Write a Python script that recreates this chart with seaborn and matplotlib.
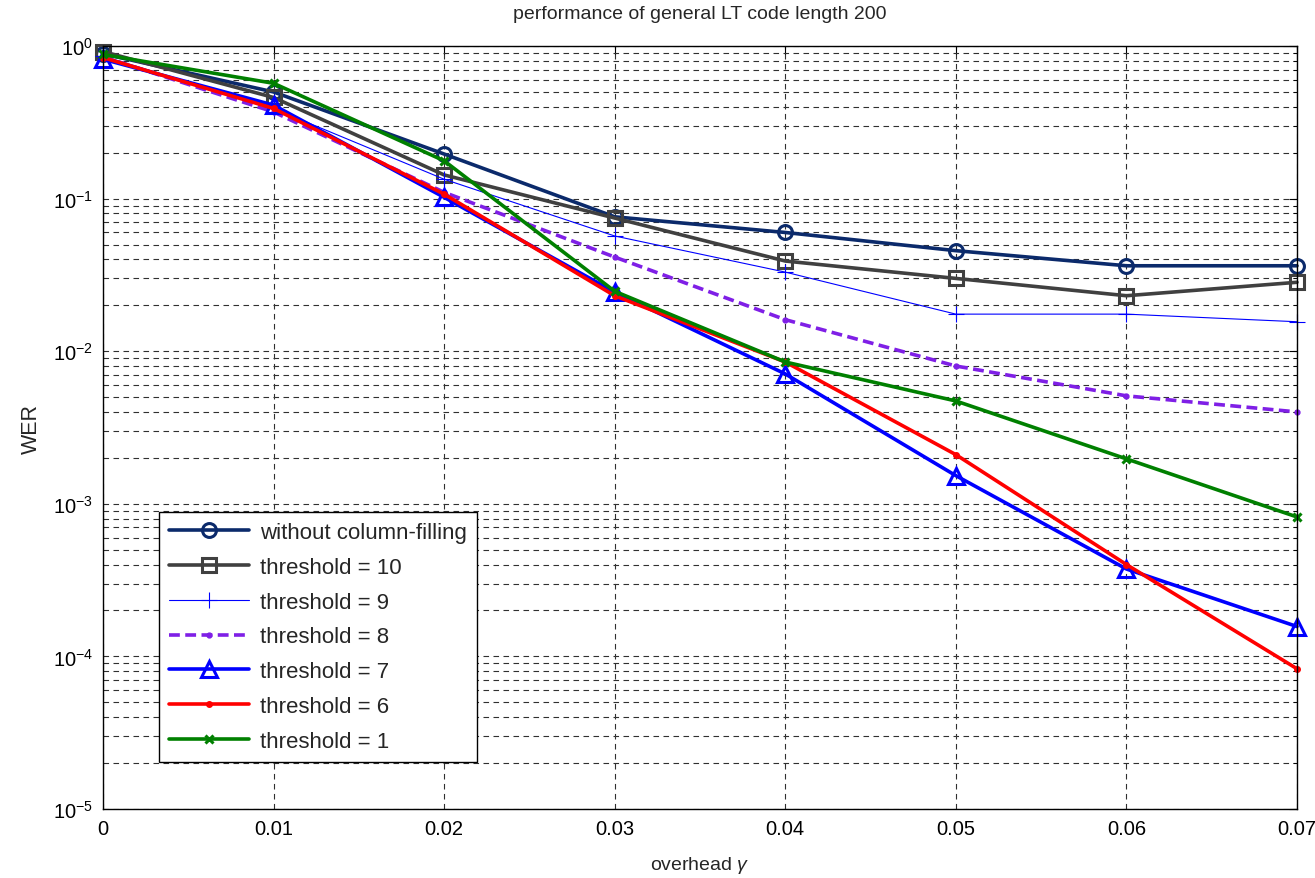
import matplotlib
matplotlib.use("Agg")
import matplotlib.pyplot as plt
import matplotlib.ticker as mticker
import numpy as np
import pandas as pd
import seaborn as sns

# overhead values
overhead = [0, 0.01, 0.02, 0.03, 0.04, 0.05, 0.06, 0.07]

# WER
wer_no_fill = [0.89, 0.50, 0.196, 0.076, 0.060, 0.0456, 0.0363, 0.0363]
wer_t10 = [0.92, 0.46, 0.143, 0.0746, 0.039, 0.030, 0.0231, 0.0283]
wer_t9 = [0.86, 0.39, 0.134, 0.0569, 0.033, 0.0175, 0.0175, 0.0156]
wer_t8 = [0.85, 0.37, 0.110, 0.0414, 0.0161, 0.0080, 0.0051, 0.0040]
wer_t7 = [0.82, 0.41, 0.102, 0.0244, 0.0071, 0.00153, 0.000374, 0.000157]
wer_t6 = [0.84, 0.39, 0.107, 0.0231, 0.0085, 0.0021, 0.0004, 0.000083]
wer_t1 = [0.88, 0.57, 0.177, 0.0247, 0.0085, 0.00472, 0.00197, 0.00082]

labels = ["without column-filling", "threshold = 10", "threshold = 9",
          "threshold = 8", "threshold = 7", "threshold = 6", "threshold = 1"]

sns.set_style("white")
plt.rcParams["font.family"] = ["Liberation Sans", "DejaVu Sans"]
plt.rcParams["mathtext.fontset"] = "custom"
plt.rcParams["mathtext.rm"] = "Liberation Sans"
plt.rcParams["mathtext.it"] = "Liberation Sans:italic"

fig = plt.figure(figsize=(13.15, 8.79), dpi=100)
ax = fig.add_axes([0.0783, 0.0785, 0.908, 0.868])

styles = [
    dict(color="#0b2a6b", marker="o", lw=2.6, ms=10, mew=2.2, ls="-", mfc="none"),
    dict(color="#404040", marker="s", lw=2.6, ms=10, mew=2.2, ls="-", mfc="none"),
    dict(color="#0000ff", marker="+", lw=0.8, ms=12, mew=0.8, ls="-", mfc="none"),
    dict(color="#7f1fe6", marker=".", lw=2.6, ms=7, mew=1, ls=(0, (3, 1.5)), mfc="#7f1fe6"),
    dict(color="#0000ff", marker="^", lw=2.6, ms=12, mew=2.2, ls="-", mfc="none"),
    dict(color="#ff0000", marker=".", lw=2.6, ms=8, mew=1, ls="-", mfc="#ff0000"),
    dict(color="#008000", marker="x", lw=2.6, ms=6, mew=2.2, ls="-", mfc="none"),
]
series = [wer_no_fill, wer_t10, wer_t9, wer_t8, wer_t7, wer_t6, wer_t1]

for vals, lab, st in zip(series, labels, styles):
    df = pd.DataFrame({"overhead": overhead, "WER": vals})
    sns.lineplot(data=df, x="overhead", y="WER", ax=ax, label=lab,
                 color=st["color"], marker=st["marker"], linewidth=st["lw"],
                 markersize=st["ms"], markeredgewidth=st["mew"],
                 linestyle=st["ls"], markerfacecolor=st["mfc"],
                 markeredgecolor=st["color"], clip_on=False)

ax.set_yscale("log")
ax.set_xlim(0, 0.07)
ax.set_ylim(1e-5, 1)
ax.set_xticks(overhead)
ax.set_xticklabels(["0", "0.01", "0.02", "0.03", "0.04", "0.05", "0.06", "0.07"])
ax.yaxis.set_major_locator(mticker.LogLocator(base=10, numticks=10))
ax.yaxis.set_minor_locator(mticker.LogLocator(base=10, subs=np.arange(2, 10), numticks=20))
ax.yaxis.set_minor_formatter(mticker.NullFormatter())

grid_ls = (0, (5, 4))
ax.grid(True, which="major", axis="both", color="#303030", linestyle=grid_ls, linewidth=0.8)
ax.grid(True, which="minor", axis="y", color="#303030", linestyle=grid_ls, linewidth=0.8)

ax.tick_params(axis="both", which="both", direction="in", top=True, right=True,
               labelsize=14.5, colors="black")
ax.tick_params(which="major", length=6, pad=7)
ax.tick_params(which="minor", length=3)
for sp in ax.spines.values():
    sp.set_color("black")
    sp.set_linewidth(1.0)

ax.set_xlabel(r"overhead $\gamma$", fontsize=14, labelpad=12)
ax.set_ylabel("WER", fontsize=15.5, labelpad=8)
ax.set_title("performance of general LT code length 200", fontsize=14, pad=20)

leg = ax.legend(loc="lower left", bbox_to_anchor=(0.047, 0.062), fontsize=16,
                frameon=True, fancybox=False, edgecolor="black", framealpha=1,
                borderpad=0.45, labelspacing=0.62, handlelength=3.6, handletextpad=0.5,
                borderaxespad=0)
leg.get_frame().set_linewidth(1.0)

fig.savefig("out.png", dpi=100, facecolor="white")
